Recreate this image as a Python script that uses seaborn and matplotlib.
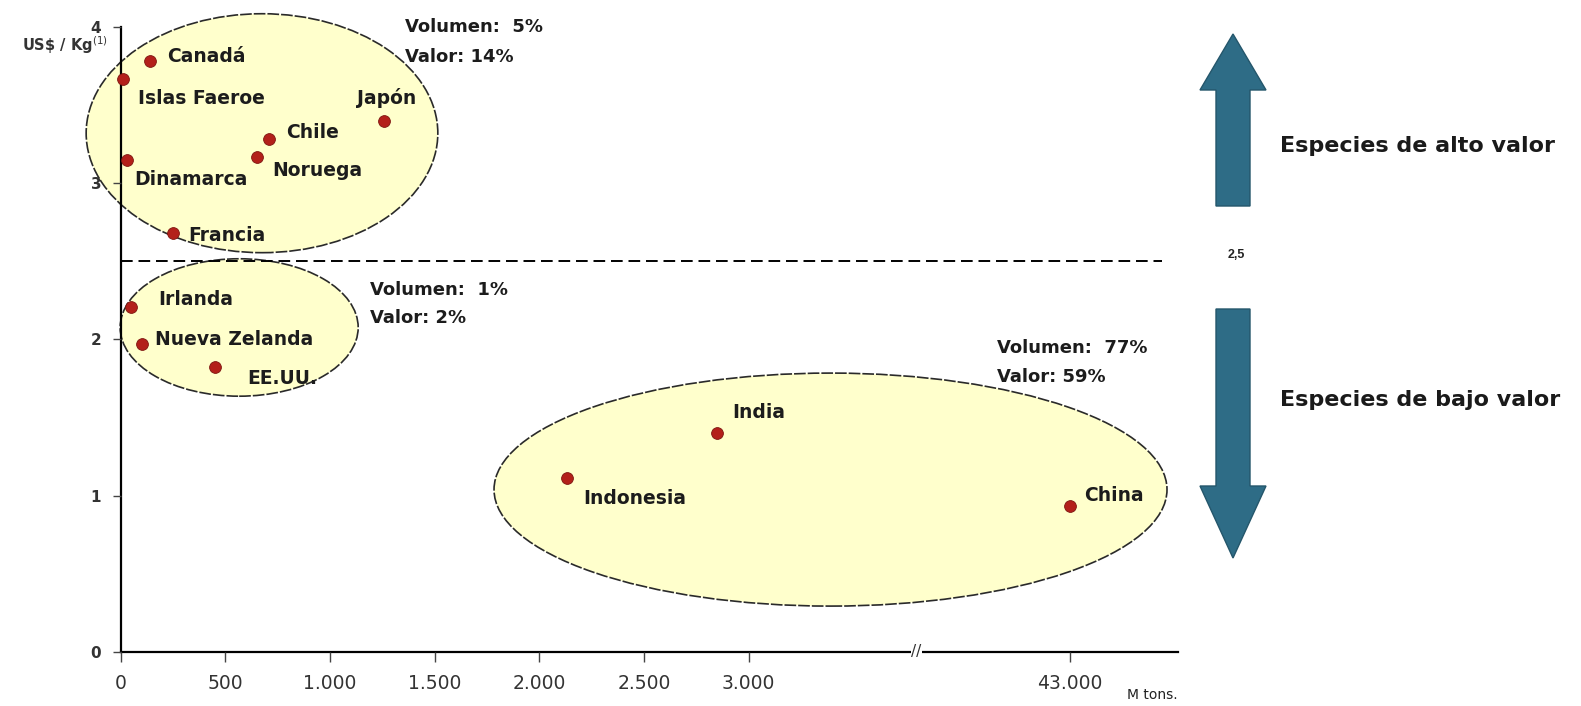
import numpy as np
import pandas as pd
import matplotlib
matplotlib.use("Agg")
import matplotlib.pyplot as plt
from matplotlib.patches import Ellipse, Polygon
import seaborn as sns

# Producción acuícola por país: volumen (miles de toneladas) y precio medio (US$/Kg)
paises = ["Canadá", "Islas Faeroe", "Japón", "Chile", "Noruega", "Dinamarca", "Francia",
          "Irlanda", "Nueva Zelanda", "EE.UU.", "India", "Indonesia", "China"]
volumen = [140, 10, 1260, 710, 650, 30, 250, 50, 100, 450, 2850, 2130, 43000]
precio = [3.78, 3.67, 3.40, 3.28, 3.17, 3.15, 2.68, 2.21, 1.97, 1.82, 1.40, 1.11, 0.93]

x_ticks = [0, 500, 1000, 1500, 2000, 2500, 3000, 43000]
x_tick_labels = ["0", "500", "1.000", "1.500", "2.000", "2.500", "3.000", "43.000"]
y_ticks = [0, 1, 2, 3, 4]
umbral = 2.5

grupo_volumen = ["Volumen:  5%", "Volumen:  1%", "Volumen:  77%"]
grupo_valor = ["Valor: 14%", "Valor: 2%", "Valor: 59%"]

df = pd.DataFrame({"pais": paises, "volumen": volumen, "precio": precio})

sns.set_style("white")
plt.rcParams["font.family"] = ["DejaVu Sans"]

W, H = 1581, 706
fig = plt.figure(figsize=(W / 100, H / 100), dpi=100)
fig.patch.set_facecolor("white")

# overlay in pixel units for the side legend (arrows and captions)
ov = fig.add_axes([0, 0, 1, 1], zorder=0)
ov.set_xlim(0, W)
ov.set_ylim(H, 0)
ov.axis("off")

X0, X1, Y0, Y4 = 120.7, 1178.0, 651.7, 27.0
ax = fig.add_axes([X0 / W, 1 - Y0 / H, (X1 - X0) / W, (Y0 - Y4) / H], zorder=1)
ax.set_facecolor("none")

# broken x axis: linear up to the cut, strongly compressed beyond it
CORTE = 3800.0
K = (4536.0 - CORTE) / (43000.0 - CORTE)


def adelante(x):
    x = np.asarray(x, dtype=float)
    return np.where(x <= CORTE, x, CORTE + (x - CORTE) * K)


def atras(u):
    u = np.asarray(u, dtype=float)
    return np.where(u <= CORTE, u, CORTE + (u - CORTE) / K)


ax.set_xscale("function", functions=(adelante, atras))

# group ellipses, drawn in scaled (axis-position) units
escala = ax.transLimits + ax.transAxes
elipses = [((675, 3.32), 1680, 1.53), ((566, 2.076), 1137, 0.88), ((3391, 1.038), 3215, 1.492)]
for (cx, cy), w, h in elipses:
    e = Ellipse((cx, cy), w, h, transform=escala, facecolor="#FFFFCC",
                edgecolor="#2a2a2a", lw=1.2, ls=(0, (7, 1.2)), zorder=1, clip_on=False)
    ax.add_patch(e)

sns.scatterplot(data=df, x="volumen", y="precio", ax=ax, color="#B3201A",
                edgecolor="#7d1510", linewidth=0.6, s=72, zorder=5, clip_on=False,
                legend=False)

ax.set_xlim(0, float(atras(5051)))
ax.set_ylim(0, 4)

# country labels
desplaz = {
    "Canadá": (17, 5), "Islas Faeroe": (15, -20), "Japón": (-27, 23), "Chile": (17, 7),
    "Noruega": (15, -14), "Dinamarca": (7, -20), "Francia": (15, -2), "Irlanda": (27, 7),
    "Nueva Zelanda": (13, 5), "EE.UU.": (32, -11), "India": (15, 21),
    "Indonesia": (17, -20), "China": (14, 11),
}
for p, xv, yv in zip(paises, volumen, precio):
    dx, dy = desplaz[p]
    ax.annotate(p, (xv, yv), xytext=(dx, dy), textcoords="offset pixels",
                ha="left", va="center", fontsize=13.5, fontweight="bold",
                color="#1c1c1c", zorder=6, annotation_clip=False)

# threshold between high and low value species
ax.axhline(umbral, xmin=0, xmax=0.985, color="black", lw=1.4, ls=(0, (6, 3)), zorder=2)

# axes styling
for s in ["top", "right"]:
    ax.spines[s].set_visible(False)
for s in ["left", "bottom"]:
    ax.spines[s].set_color("black")
    ax.spines[s].set_linewidth(1.6)
    ax.spines[s].set_zorder(3)
ax.set_xticks(x_ticks)
ax.set_xticklabels(x_tick_labels)
ax.set_yticks(y_ticks)
ax.set_yticklabels([str(v) for v in y_ticks])
ax.tick_params(axis="x", bottom=True, direction="out", length=7, width=1, color="#444",
               labelsize=13.5, labelcolor="#333", pad=9)
ax.tick_params(axis="y", left=True, direction="out", length=6, width=1, color="#444",
               labelsize=11, labelcolor="#333", pad=8)
for t in ax.get_yticklabels():
    t.set_fontweight("bold")
ax.yaxis.set_zorder(6)
ax.xaxis.set_zorder(6)
ax.set_xlabel("")
ax.set_ylabel("")

# axis break mark
ax.text(CORTE, 0, "//", transform=ax.get_xaxis_transform(), ha="center", va="center",
        fontsize=11, color="#333", zorder=7, clip_on=False,
        bbox=dict(facecolor="white", edgecolor="none", pad=0.3))

# axis captions and group shares
ov.text(108, 45, r"US\$ / Kg$^{(1)}$", ha="right", va="center", fontsize=10.5,
        fontweight="bold", color="#333")
ov.text(1127, 695, "M tons.", ha="left", va="center", fontsize=10, color="#222")
ov.text(1236, 255, "2,5", ha="center", va="center", fontsize=9, fontweight="bold",
        family="Liberation Sans", color="#222")

grupo_pos = [(405, 27, 57), (370, 290, 318), (997, 348, 377)]
for (gx, gy1, gy2), vol, val in zip(grupo_pos, grupo_volumen, grupo_valor):
    ov.text(gx, gy1, vol, ha="left", va="center", fontsize=13, fontweight="bold", color="#1c1c1c")
    ov.text(gx, gy2, val, ha="left", va="center", fontsize=13, fontweight="bold", color="#1c1c1c")

# value arrows
flecha = "#2E6C86"
cx, hw, sw = 1233, 33, 17
arriba = [(cx, 34), (cx + hw, 90), (cx + sw, 90), (cx + sw, 206), (cx - sw, 206),
          (cx - sw, 90), (cx - hw, 90)]
abajo = [(cx, 558), (cx + hw, 486), (cx + sw, 486), (cx + sw, 309), (cx - sw, 309),
         (cx - sw, 486), (cx - hw, 486)]
for pts in (arriba, abajo):
    ov.add_patch(Polygon(pts, closed=True, facecolor=flecha, edgecolor="#24566b", lw=1))

ov.text(1280, 146, "Especies de alto valor", ha="left", va="center", fontsize=16,
        fontweight="bold", color="#1a1a1a")
ov.text(1280, 400, "Especies de bajo valor", ha="left", va="center", fontsize=16,
        fontweight="bold", color="#1a1a1a")

fig.savefig("out.png", dpi=100)
